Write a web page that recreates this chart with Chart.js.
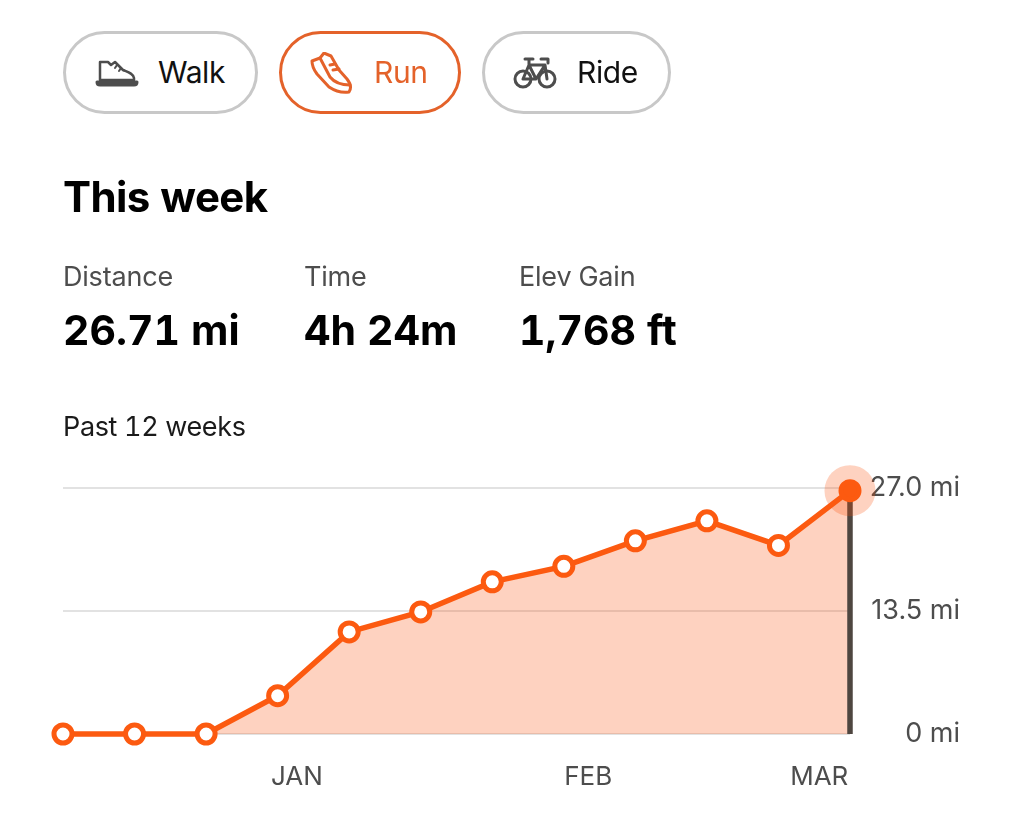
<!DOCTYPE html>
<html><head><meta charset="utf-8">
<script src="https://cdn.jsdelivr.net/npm/chart.js@4"></script>
<style>
html,body{margin:0;padding:0;background:#fff;width:1024px;height:817px;overflow:hidden}
body{font-family:Inter,"Noto Sans",sans-serif;color:#000;position:relative}
canvas{position:absolute;left:0;top:0;font-variant-numeric:normal}
.pill{position:absolute;top:31px;height:83px;box-sizing:border-box;border:3px solid #c8c8c8;border-radius:42px;background:#fff}
.pill.on{border-color:#e4622a}
.pill span{position:absolute;top:20px;font-size:30px;line-height:36px;letter-spacing:-.4px;color:#111}
.pill.on span{color:#e4622a}
.pill svg{position:absolute;fill:none;stroke:#4d4d4d;stroke-width:3;stroke-linejoin:round;stroke-linecap:round}
.pill.on svg{stroke:#e4622a}
.t{position:absolute;white-space:nowrap;font-variant-numeric:tabular-nums}
.lab{top:261px;font-size:27px;line-height:32px;color:#4d4d4d;letter-spacing:-.2px}
.val{top:305px;font-size:41px;line-height:50px;font-weight:700;letter-spacing:0}
</style></head><body>
<canvas id="c" width="1024" height="817"></canvas>
<div class="pill" style="left:63px;width:195px"><svg style="left:29px;top:25px" width="44" height="28" viewBox="0 0 44 28"><path d="M5 3h8l3 3 4-3 8 8c5 2 10 3 11 8v2H5z" stroke-width="2.5"/><path d="M22 6l-2 3M26 9l-2 3" stroke-width="2"/><path d="M2 23h40c0 2-1 3-3 3H5c-2 0-3-1-3-3z" stroke-width="3"/></svg><span style="left:92px">Walk</span></div>
<div class="pill on" style="left:279px;width:182px"><svg style="left:27px;top:18px" width="46" height="42" viewBox="0 0 46 42"><path d="M3 9l8-3 4-5 7 3 8 14 8 9c4 5 4 10 2 13-7 1-14-1-20-5L8 22C5 18 3 14 3 9z"/><path d="M11 6l10 19c4 5 12 8 20 8M21 13l5-1M24 18l6-1"/></svg><span style="left:92px">Run</span></div>
<div class="pill" style="left:482px;width:189px"><svg style="left:28px;top:22px" width="44" height="34" viewBox="0 0 44 34"><circle cx="10" cy="23" r="8"/><circle cx="34" cy="23" r="8"/><path d="M10 23l6-14h16l2 14M16 9l7 14H10M32 9L23 23M12 3h8M16 3v6M28 3h7v4"/></svg><span style="left:92px">Ride</span></div>
<div class="t" style="left:63px;top:172px;font-size:42px;line-height:50px;font-weight:700;letter-spacing:-.6px">This week</div>
<div class="t lab" id="l0" style="left:63px"></div><div class="t val" id="v0" style="left:63px"></div>
<div class="t lab" id="l1" style="left:304px"></div><div class="t val" id="v1" style="left:304px"></div>
<div class="t lab" id="l2" style="left:519px"></div><div class="t val" id="v2" style="left:519px"></div>
<div class="t" id="sub" style="left:63px;top:411px;font-size:27px;line-height:32px;color:#1a1a1a;letter-spacing:-.35px"></div>
<script>
const statLabels = ["Distance", "Time", "Elev Gain"];
const statValues = ["26.71 mi", "4h 24m", "1,768 ft"];
const subtitle = "Past 12 weeks";
const weeks = [0,1,2,3,4,5,6,7,8,9,10,11];
const miles = [0,0,0,4.2,11.2,13.4,16.7,18.4,21.2,23.4,20.7,26.71];
const yTicks = [0,13.5,27];
const monthLabels = ["JAN","FEB","MAR"];
const monthWeeks = [3.27,7.34,10.57];

statLabels.forEach((s,i)=>{document.getElementById('l'+i).textContent=s;document.getElementById('v'+i).textContent=statValues[i];});
document.getElementById('sub').textContent=subtitle;

const orange='#fc5a10';
const pts=weeks.map((w,i)=>({x:w,y:miles[i]}));
const last=pts[pts.length-1];
const font={family:'Inter, "Noto Sans", sans-serif',size:26};
const yFont={family:'Inter, "Noto Sans", sans-serif',size:27};
new Chart(document.getElementById('c'),{
  type:'line',
  data:{datasets:[
    {label:'Distance',data:pts,order:1,clip:false,borderColor:orange,borderWidth:5.5,tension:0,
     fill:{target:'origin'},backgroundColor:'rgba(252,76,2,0.25)',
     pointBackgroundColor:pts.map((p,i)=>i===pts.length-1?orange:'#fff'),
     pointBorderColor:orange,pointBorderWidth:5,
     pointRadius:pts.map((p,i)=>i===pts.length-1?9:9)},
    {label:'halo',data:[last],order:2,clip:false,showLine:false,pointRadius:25.5,pointBorderWidth:0,
     pointBackgroundColor:'rgba(252,76,2,0.25)',fill:false},
    {label:'marker',data:[{x:last.x,y:0},last],order:3,clip:false,borderColor:'#4e4640',borderWidth:5.5,pointRadius:0,fill:false}
  ]},
  options:{
    responsive:false,animation:false,
    layout:{padding:{left:63,top:488,right:64,bottom:0}},
    plugins:{legend:{display:false},tooltip:{enabled:false},filler:{drawTime:'beforeDatasetsDraw'}},
    scales:{
      x:{type:'linear',min:0,max:11,
        grid:{display:false},border:{display:false},
        afterBuildTicks:s=>{s.ticks=monthWeeks.map(v=>({value:v}));},
        afterFit:s=>{s.height=83;},
        ticks:{autoSkip:false,maxRotation:0,padding:20,color:'#4d4d4d',font,
          callback:v=>monthLabels[monthWeeks.indexOf(v)]}},
      y:{type:'linear',position:'right',min:0,max:27,
        grid:{color:'#e2e2e2',lineWidth:2,drawTicks:false},border:{display:false},
        afterBuildTicks:s=>{s.ticks=yTicks.map(v=>({value:v}));},
        afterFit:s=>{s.width=110;},
        ticks:{crossAlign:'far',padding:22,color:'#4d4d4d',font:yFont,
          callback:v=>v===0?'0 mi':v.toFixed(1)+' mi'}}
    }
  }
});
</script>
</body></html>
